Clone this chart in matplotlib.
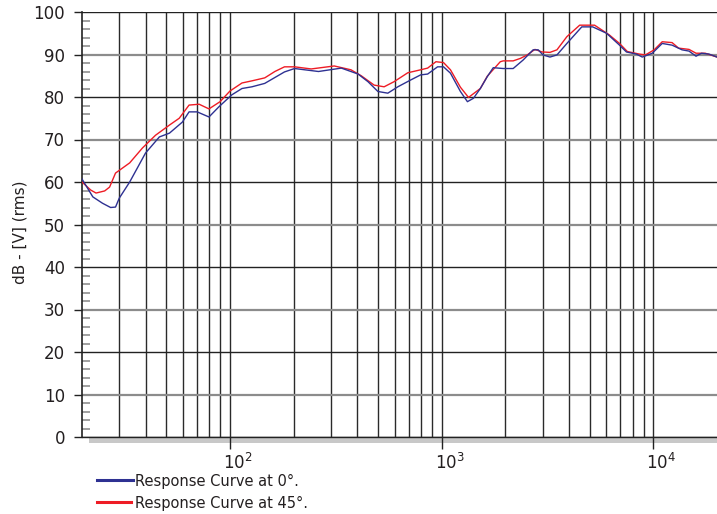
import matplotlib.pyplot as plt
import numpy as np
from matplotlib.patches import Rectangle
from matplotlib.lines import Line2D
from matplotlib.transforms import ScaledTranslation

plt.rcParams['font.family'] = ['DejaVu Sans']
plt.rcParams['mathtext.default'] = 'regular'

# Response at 0 degrees (Hz, dB)
freq_0 = [20, 22.5, 25, 27.3, 28.8, 30, 33.6, 39.9, 46.4, 51.8, 59.6, 64.1, 70, 79.6,
          88.7, 102, 114, 127, 146, 181, 202, 262, 336, 403, 449, 500, 557, 621,
          714, 796, 859, 957, 1021, 1101, 1227, 1324, 1414, 1524, 1644, 1754, 1954,
          2178, 2427, 2706, 2860, 3013, 3250, 3507, 3907, 4594, 5175, 6015, 6925,
          7465, 8318, 8874, 9893, 11020, 12270, 13670, 14750, 15920, 16890, 18330, 20000]
resp_0 = [60.7, 56.5, 55.0, 54.0, 54.1, 56.2, 60.0, 66.8, 70.6, 71.5, 74.1, 76.5, 76.5, 75.3,
          77.7, 80.5, 82.0, 82.4, 83.2, 85.9, 86.7, 86.0, 86.8, 85.4, 83.6, 81.3, 80.9, 82.4,
          84.0, 85.2, 85.4, 87.1, 87.1, 85.6, 81.3, 78.9, 79.7, 82.0, 84.8, 86.9, 86.7,
          86.7, 88.7, 91.1, 91.1, 89.9, 89.4, 89.9, 92.6, 96.5, 96.5, 95.0, 92.2,
          90.6, 90.1, 89.4, 90.3, 92.6, 92.2, 91.1, 90.8, 89.6, 90.3, 90.1, 89.4]

# Response at 45 degrees (Hz, dB)
freq_45 = [20, 22, 23.3, 25.6, 27, 28.8, 33.6, 38.6, 44.5, 51.8, 57.6, 64.1, 71.5, 79.6,
           89.8, 100, 114, 127, 146, 163, 181, 202, 242, 311, 373, 417, 480, 535, 596,
           692, 796, 859, 940, 1021, 1101, 1227, 1340, 1524, 1644, 1893, 1954, 2178,
           2360, 2538, 2760, 2980, 3250, 3507, 3907, 4490, 5280, 6200, 6925, 7540,
           8590, 9180, 10100, 11020, 12270, 13170, 14750, 15920, 17600, 20000]
resp_45 = [60.0, 58.1, 57.4, 57.9, 58.8, 62.1, 64.5, 68.0, 71.0, 73.4, 75.0, 78.1, 78.3, 77.2,
           78.9, 81.4, 83.3, 83.8, 84.5, 86.0, 87.1, 87.1, 86.6, 87.3, 86.4, 85.0, 82.8, 82.4, 83.6,
           85.7, 86.4, 86.8, 88.3, 88.1, 86.4, 82.3, 79.9, 82.0, 84.9, 88.3, 88.5, 88.5,
           89.1, 89.9, 91.2, 90.6, 90.5, 91.1, 94.2, 96.9, 96.9, 94.6, 92.6, 90.7,
           90.1, 89.9, 91.1, 93.0, 92.8, 91.5, 91.2, 90.3, 90.3, 89.4]

grid_freqs = [30, 40, 50, 60, 70, 80, 90, 100, 200, 300, 400, 500, 600, 700, 800, 900,
              1000, 2000, 3000, 4000, 5000, 6000, 7000, 8000, 9000, 10000]
y_levels = list(range(0, 101, 10))

fig = plt.figure(figsize=(7.17, 5.14), dpi=100)
ax = fig.add_axes([82 / 717, 77 / 514, 635 / 717, 425 / 514])

ax.set_xscale('log')
ax.set_xlim(20, 20000)
ax.set_ylim(0, 100)

# grid lines
for f in grid_freqs:
    ax.axvline(f, color='#2a2a2a', lw=1.0, zorder=1)
for v in y_levels:
    if v % 20 == 0:
        ax.axhline(v, color='#222222', lw=1.0, zorder=1)
    else:
        ax.axhline(v, color='#8c8c8c', lw=1.6, zorder=1)

ax.plot(freq_45, resp_45, color='#ee1c25', lw=1.0, zorder=3)
ax.plot(freq_0, resp_0, color='#2e3192', lw=1.0, zorder=3)

# spines
for s in ['top', 'right']:
    ax.spines[s].set_visible(False)
ax.spines['left'].set_color('#222222')
ax.spines['left'].set_linewidth(1.2)
ax.spines['bottom'].set_color('#222222')
ax.spines['bottom'].set_linewidth(1.0)

# gray shadow band under the x axis
ax.add_patch(Rectangle((7 / 635, -6 / 425), 1, 6 / 425, transform=ax.transAxes,
                       color='#c8c8c8', clip_on=False, zorder=0, lw=0))

# ticks
ax.set_yticks(y_levels)
ax.set_yticks(np.arange(0, 101, 2), minor=True)
ax.tick_params(axis='y', which='major', direction='out', length=5.8, width=1,
               color='#222222', labelsize=12, pad=6.5, labelcolor='#231f20')
ax.tick_params(axis='y', which='minor', direction='in', length=5.5, width=1.3,
               color='#999999')
ax.set_xticks([100, 1000, 10000])
ax.set_xticklabels(['$10^2$', '$10^3$', '$10^4$'])
ax.xaxis.set_minor_locator(plt.NullLocator())
ax.tick_params(axis='x', which='major', direction='out', length=8.5, width=1,
               color='#222222', labelsize=12, pad=3, labelcolor='#231f20')
for lab in ax.get_xticklabels():
    lab.set_transform(lab.get_transform() + ScaledTranslation(8 / 100, 0, fig.dpi_scale_trans))

fig.text(20 / 717, 1 - 232 / 514, 'dB - [V] (rms)', rotation=90, fontsize=11,
         ha='center', va='center', color='#231f20')

# legend drawn below the plot
fig.add_artist(Line2D([97 / 717, 133 / 717], [1 - 480 / 514] * 2, color='#2e3192', lw=2.2))
fig.add_artist(Line2D([97 / 717, 131 / 717], [1 - 502 / 514] * 2, color='#ee1c25', lw=2.2))
fig.text(135 / 717, 1 - 481 / 514, 'Response Curve at 0°.', fontsize=10.5,
         va='center', ha='left', color='#231f20')
fig.text(135 / 717, 1 - 503 / 514, 'Response Curve at 45°.', fontsize=10.5,
         va='center', ha='left', color='#231f20')

fig.savefig('out.png', dpi=100)
